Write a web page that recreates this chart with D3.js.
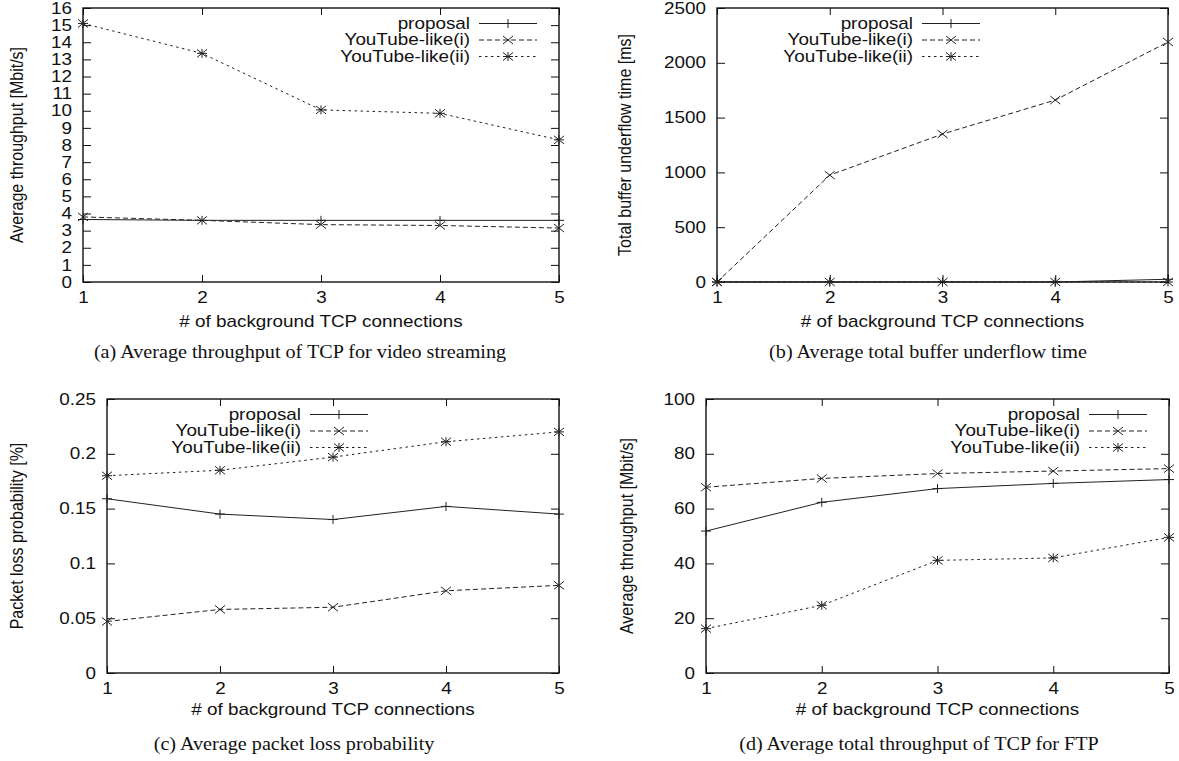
<!DOCTYPE html>
<html>
<head>
<meta charset="utf-8">
<script src="https://cdn.jsdelivr.net/npm/d3@7"></script>
<style>
  body { margin: 0; background: #fff; }
  svg { display: block; }
</style>
</head>
<body>
<svg id="fig" width="1179" height="761"></svg>
<script>
// shared x categories and legend names
const connections = [1, 2, 3, 4, 5];
const seriesNames = ['proposal', 'YouTube-like(i)', 'YouTube-like(ii)'];

// (a) average throughput of TCP for video streaming [Mbit/s]
const videoProposal = [3.65, 3.6, 3.6, 3.6, 3.6];
const videoYtI = [3.8, 3.6, 3.35, 3.3, 3.15];
const videoYtII = [15.1, 13.35, 10.05, 9.85, 8.3];
const videoTicks = [0, 1, 2, 3, 4, 5, 6, 7, 8, 9, 10, 11, 12, 13, 14, 15, 16];

// (b) total buffer underflow time [ms]
const underflowProposal = [0, 0, 0, 0, 25];
const underflowYtI = [0, 975, 1350, 1660, 2190];
const underflowYtII = [0, 0, 0, 0, 0];
const underflowTicks = [0, 500, 1000, 1500, 2000, 2500];

// (c) packet loss probability [%]
const lossProposal = [0.159, 0.145, 0.140, 0.152, 0.145];
const lossYtI = [0.047, 0.058, 0.060, 0.075, 0.080];
const lossYtII = [0.180, 0.185, 0.197, 0.211, 0.220];
const lossTicks = [0, 0.05, 0.1, 0.15, 0.2, 0.25];

// (d) total throughput of TCP for FTP [Mbit/s]
const ftpProposal = [51.8, 62.3, 67.3, 69.2, 70.6];
const ftpYtI = [67.8, 71.0, 72.8, 73.7, 74.6];
const ftpYtII = [16.2, 24.7, 41.1, 42.0, 49.5];
const ftpTicks = [0, 20, 40, 60, 80, 100];

const xTitle = '# of background TCP connections';

const panels = [
  { box: [83, 8, 559, 282], ticks: videoTicks, values: [videoProposal, videoYtI, videoYtII],
    yTitle: 'Average throughput [Mbit/s]', yTitleX: 17, legendEnd: 537,
    caption: '(a) Average throughput of TCP for video streaming', capX: 300, capY: 352, xTitleY: 322 },
  { box: [717, 8, 1168, 282], ticks: underflowTicks, values: [underflowProposal, underflowYtI, underflowYtII],
    yTitle: 'Total buffer underflow time [ms]', yTitleX: 625, legendEnd: 980,
    caption: '(b) Average total buffer underflow time', capX: 928, capY: 352, xTitleY: 322 },
  { box: [107, 399, 559, 673], ticks: lossTicks, values: [lossProposal, lossYtI, lossYtII],
    yTitle: 'Packet loss probability [%]', yTitleX: 17, legendEnd: 368,
    caption: '(c) Average packet loss probability', capX: 294, capY: 744, xTitleY: 710 },
  { box: [706, 399, 1169, 673], ticks: ftpTicks, values: [ftpProposal, ftpYtI, ftpYtII],
    yTitle: 'Average throughput [Mbit/s]', yTitleX: 627, legendEnd: 1147,
    caption: '(d) Average total throughput of TCP for FTP', capX: 919, capY: 744, xTitleY: 710 }
];

const SX = 1.18;        // the source figure is stretched sideways
const ink = '#111';
const lineInk = '#222';
const sans = 'Liberation Sans, Arial, Helvetica, sans-serif';
const serif = 'Liberation Serif, Times New Roman, serif';

const dashes = [null, '5,3', '2.5,3.5'];
const markers = [
  'M-5,0H5M0,-4.5V4.5',
  'M-5,-4L5,4M-5,4L5,-4',
  'M-5,0H5M0,-4.5V4.5M-5,-4L5,4M-5,4L5,-4'
];

const svg = d3.select('#fig');

function stretchText(sel) {
  sel.each(function () {
    const t = d3.select(this);
    t.attr('x', (+t.attr('x') || 0) / SX).attr('transform', `scale(${SX},1)`);
  });
}

function text(x, y, str, opts = {}) {
  const rot = opts.rotate ? ' rotate(-90)' : '';
  svg.append('text')
    .attr('transform', `translate(${x},${y}) scale(${opts.sx || SX},1)${rot}`)
    .attr('text-anchor', opts.anchor || 'middle')
    .attr('dominant-baseline', 'central')
    .attr('font-family', opts.family || sans)
    .attr('font-size', opts.size || 16)
    .attr('fill', ink)
    .text(str);
}

panels.forEach((p) => {
  const [x0, y0, x1, y1] = p.box;
  const x = d3.scaleLinear().domain([1, 5]).range([x0, x1]);
  const y = d3.scaleLinear().domain([0, d3.max(p.ticks)]).range([y1, y0]);

  const fmt = (d) => String(d);

  const left = svg.append('g').attr('transform', `translate(${x0},0)`)
    .call(d3.axisLeft(y).tickValues(p.ticks).tickFormat(fmt).tickSize(-8).tickPadding(11));
  const right = svg.append('g').attr('transform', `translate(${x1},0)`)
    .call(d3.axisRight(y).tickValues(p.ticks).tickFormat('').tickSize(-8));
  const bottom = svg.append('g').attr('transform', `translate(0,${y1})`)
    .call(d3.axisBottom(x).tickValues(connections).tickFormat(d3.format('d')).tickSize(-7).tickPadding(10));
  const top = svg.append('g').attr('transform', `translate(0,${y0})`)
    .call(d3.axisTop(x).tickValues(connections).tickFormat('').tickSize(-7));

  [left, right, bottom, top].forEach((g) => {
    g.select('.domain').remove();
    g.selectAll('line').attr('stroke', ink).attr('stroke-width', 1);
    g.selectAll('text').attr('font-family', sans).attr('font-size', 16).attr('fill', ink);
  });
  stretchText(left.selectAll('text'));
  stretchText(bottom.selectAll('text'));

  svg.append('rect')
    .attr('x', x0).attr('y', y0)
    .attr('width', x1 - x0).attr('height', y1 - y0)
    .attr('fill', 'none').attr('stroke', ink).attr('stroke-width', 1.4);

  const line = d3.line().x((d, i) => x(connections[i])).y((d) => y(d));

  p.values.forEach((vals, s) => {
    svg.append('path')
      .attr('d', line(vals))
      .attr('fill', 'none')
      .attr('stroke', lineInk)
      .attr('stroke-width', 1)
      .attr('stroke-dasharray', dashes[s]);
    svg.append('g').selectAll('path')
      .data(vals)
      .join('path')
      .attr('transform', (d, i) => `translate(${x(connections[i])},${y(d)})`)
      .attr('d', markers[s])
      .attr('fill', 'none')
      .attr('stroke', lineInk)
      .attr('stroke-width', 1);
  });

  // key, top right inside the frame
  const sampleEnd = p.legendEnd;
  const sampleStart = sampleEnd - 58;
  seriesNames.forEach((name, s) => {
    const ry = y0 + 15.5 + s * 16.5;
    text(sampleStart - 9, ry, name, { anchor: 'end' });
    svg.append('line')
      .attr('x1', sampleStart).attr('x2', sampleEnd)
      .attr('y1', ry).attr('y2', ry)
      .attr('stroke', lineInk).attr('stroke-width', 1)
      .attr('stroke-dasharray', dashes[s]);
    svg.append('path')
      .attr('transform', `translate(${(sampleStart + sampleEnd) / 2},${ry})`)
      .attr('d', markers[s])
      .attr('fill', 'none').attr('stroke', lineInk).attr('stroke-width', 1);
  });

  text((x0 + x1) / 2, p.xTitleY, xTitle);
  text(p.yTitleX, (y0 + y1) / 2, p.yTitle, { rotate: true });
  text(p.capX, p.capY, p.caption, { family: serif, size: 18, sx: 1.12 });
});
</script>
</body>
</html>
